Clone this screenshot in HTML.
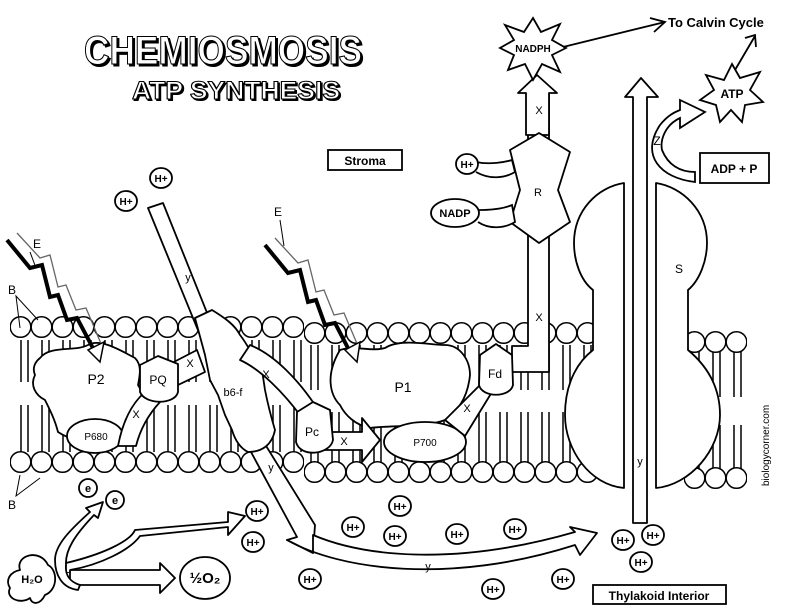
<!DOCTYPE html>
<html><head><meta charset="utf-8"><style>
html,body{margin:0;padding:0;background:#fff}
svg{display:block}
text{font-family:"Liberation Sans",sans-serif}
</style></head><body>
<svg width="792" height="610" viewBox="0 0 792 610" xmlns="http://www.w3.org/2000/svg">
<defs>
<pattern id="hd" x="0" y="0" width="21" height="26" patternUnits="userSpaceOnUse">
<circle cx="10.5" cy="13" r="10.3" fill="#fff" stroke="#000" stroke-width="1.5"/>
</pattern>
<pattern id="tl" x="0" y="0" width="21" height="200" patternUnits="userSpaceOnUse">
<rect x="7" y="-2" width="7" height="204" fill="#fff" stroke="#000" stroke-width="1.5"/>
</pattern>
</defs>
<rect width="792" height="610" fill="#fff"/>

<!-- Title -->
<g font-weight="bold" stroke="#000" stroke-width="1.1">
<text x="84" y="64" font-size="40" textLength="278" lengthAdjust="spacingAndGlyphs" fill="#000" transform="translate(2,2)">CHEMIOSMOSIS</text>
<text x="84" y="64" font-size="40" textLength="278" lengthAdjust="spacingAndGlyphs" fill="#fff">CHEMIOSMOSIS</text>
<text x="132" y="99" font-size="25" textLength="208" lengthAdjust="spacingAndGlyphs" fill="#000" transform="translate(1.5,1.5)">ATP SYNTHESIS</text>
<text x="132" y="99" font-size="25" textLength="208" lengthAdjust="spacingAndGlyphs" fill="#fff">ATP SYNTHESIS</text>
</g>

<!-- Membrane tails -->
<rect width="290" height="42" fill="url(#tl)" transform="translate(14,340)"/>
<rect width="290" height="47" fill="url(#tl)" transform="translate(14,405)"/>
<rect width="290" height="45" fill="url(#tl)" transform="translate(304,345)"/>
<rect width="290" height="50" fill="url(#tl)" transform="translate(304,412)"/>
<rect width="63" height="47" fill="url(#tl)" transform="translate(685,350)"/>
<rect width="63" height="45" fill="url(#tl)" transform="translate(685,425)"/>
<!-- heads -->
<rect width="294" height="26" fill="url(#hd)" transform="translate(10,314)"/>
<rect width="294" height="26" fill="url(#hd)" transform="translate(10,449)"/>
<rect width="294" height="26" fill="url(#hd)" transform="translate(304,320)"/>
<rect width="294" height="26" fill="url(#hd)" transform="translate(304,459)"/>
<rect width="63" height="26" fill="url(#hd)" transform="translate(684,329)"/>
<rect width="63" height="26" fill="url(#hd)" transform="translate(684,465)"/>

<g fill="#fff" stroke="#000" stroke-width="1.8" stroke-linejoin="round">
<polygon points="148,208 163,203 250,420 315,525 313,553 287,540 297,537 238,428"/>
<path d="M40,358 C50,345 75,352 88,345 C100,338 120,350 135,358 C142,365 140,375 138,385 C145,395 140,405 135,415 C125,425 118,440 105,440 C90,445 70,440 58,432 C55,420 50,410 45,400 C35,395 30,385 35,375 C32,368 35,362 40,358Z"/>
<ellipse cx="95" cy="436" rx="28" ry="17"/>
<path d="M118,446 C122,425 130,405 145,392 L160,402 C148,415 140,430 136,446Z"/>
<path d="M195,318 L212,310 C225,318 235,325 240,335 C248,345 255,360 262,370 L265,390 C268,405 272,420 275,430 C272,445 262,452 248,452 C240,448 235,440 232,430 L225,415 L218,395 L210,380 L205,355 Z"/>
<polygon points="168,365 197,350 205,372 178,385"/>
<path d="M140,365 L158,356 L178,364 L178,392 C175,405 145,405 140,392Z"/>
<path d="M240,360 C262,370 285,395 300,415 L315,405 C298,380 275,355 250,345Z"/>
<path d="M340,350 C355,345 370,352 385,348 C400,338 430,345 445,345 C460,345 470,360 470,375 C468,395 460,410 445,420 C425,428 390,425 370,428 C355,425 345,415 340,405 C330,395 325,375 340,350Z"/>
<ellipse cx="425" cy="442" rx="41" ry="20"/>
<polygon points="445,420 480,385 492,392 465,436"/>
<polygon points="325,432 362,432 362,418 380,440 362,462 362,450 325,450"/>
<path d="M297,412 L313,402 L330,410 L333,440 C330,455 300,458 296,442Z"/>
<polygon points="528,95 549,95 549,372 512,372 512,346 528,346"/>
<polygon points="537,75 557,93 549,93 549,135 526,135 526,93 518,93"/>
<path d="M480,355 L496,344 L512,355 L513,385 C510,398 482,398 479,385Z"/>
<polygon points="539,133 570,152 558,190 570,222 539,243 510,222 520,190 510,150"/>
<path d="M624,183 L624,488 C590,485 565,450 565,415 C565,380 580,360 593,350 L593,290 C580,280 574,260 574,243 C574,210 598,187 624,183Z"/>
<path d="M656,183 L656,488 C690,485 720,450 720,415 C720,380 700,360 688,350 L688,290 C700,280 707,260 707,243 C707,210 682,187 656,183Z"/>
<polygon points="641,78 658,97 647,97 647,523 633,523 633,97 625,97"/>
<path d="M287,540 C340,570 450,585 575,545 L580,555 L597,533 L570,527 L575,532 C450,568 360,555 313,535 L313,553 Z"/>
</g>

<g fill="none" stroke-linejoin="miter">
<polyline points="7,240 30,268 42,265 50,297 58,295 67,320 77,318 95,352" stroke="#000" stroke-width="4"/>
<polyline points="17,233 40,258 50,255 58,287 66,285 76,310 86,308 102,346" stroke="#666" stroke-width="1.3"/>
<polygon points="88,350 100,362 104,342" fill="#fff" stroke="#000" stroke-width="1.5"/>
<polyline points="265,245 288,273 300,270 308,302 316,300 325,325 335,323 350,352" stroke="#000" stroke-width="4"/>
<polyline points="275,238 298,263 308,260 316,292 324,290 334,315 344,313 358,346" stroke="#666" stroke-width="1.3"/>
<polygon points="345,350 357,362 360,342" fill="#fff" stroke="#000" stroke-width="1.5"/>
</g>
<g stroke="#000" stroke-width="1" fill="none">
<line x1="30" y1="252" x2="36" y2="268"/>
<line x1="280" y1="220" x2="284" y2="246"/>
<polyline points="20,328 16,296 38,320"/>
<polyline points="20,475 16,496 40,478"/>
</g>

<g fill="#fff" stroke="#000" stroke-width="1.8">
<path d="M476,162 C490,165 505,162 512,160 L515,172 C505,178 490,180 476,172"/>
<path d="M478,210 C495,210 505,208 512,205 L515,222 C505,228 490,230 478,222"/>
<polygon points="533,18 541,32 560,24 552,40 566,48 552,55 560,72 542,64 533,80 525,64 508,70 514,55 500,48 514,40 505,25 524,32"/>
<polygon points="732,64 740,78 760,72 750,90 763,102 745,105 742,122 731,110 720,122 716,105 700,100 714,90 706,75 724,80"/>
<ellipse cx="455" cy="213" rx="24" ry="14"/>
<ellipse cx="467" cy="164" rx="11" ry="10"/>
<path d="M695,182 C660,178 640,155 660,125 C668,115 675,112 680,110 L680,100 L705,112 L680,128 L680,118 C665,125 660,140 662,150 C668,165 680,172 695,172 Z"/>
</g>
<g stroke="#000" stroke-width="1.8" fill="none">
<line x1="563" y1="47" x2="665" y2="22"/>
<polyline points="650,18 665,22 654,32"/>
<line x1="735" y1="70" x2="755" y2="36"/>
<polyline points="745,38 755,35 756,47"/>
</g>

<rect x="328" y="150" width="74" height="20" fill="#fff" stroke="#000" stroke-width="1.8"/>
<rect x="700" y="153" width="69" height="30" fill="#fff" stroke="#000" stroke-width="1.8"/>
<rect x="593" y="585" width="133" height="19" fill="#fff" stroke="#000" stroke-width="1.8"/>

<g fill="#fff" stroke="#000" stroke-width="1.8" stroke-linejoin="round">
<path d="M20,570 C15,555 40,548 48,565 C58,570 58,590 45,595 C40,605 32,605 30,598 C20,605 5,598 10,588 C5,580 10,572 20,570Z"/>
<ellipse cx="205" cy="578" rx="25" ry="21"/>
<polygon points="70,570 160,570 160,563 175,578 160,593 160,585 70,585"/>
<path d="M66,563 C100,555 130,542 135,530 L228,522 L228,512 L245,516 L228,535 L228,527 L140,536 C130,550 100,565 70,570"/>
<path d="M55,560 C55,545 70,530 90,512 L86,508 L103,502 L98,518 L94,515 C75,535 65,550 66,565 C65,575 70,582 80,585 L78,590 C62,588 55,575 55,560Z"/>
<circle cx="88" cy="488" r="9"/>
<circle cx="115" cy="500" r="9"/>
</g>

<g fill="#fff" stroke="#000" stroke-width="1.8">
<ellipse cx="126" cy="201" rx="11" ry="10"/>
<ellipse cx="161" cy="178" rx="11" ry="10"/>
<ellipse cx="257" cy="511" rx="11" ry="10"/>
<ellipse cx="253" cy="542" rx="11" ry="10"/>
<ellipse cx="353" cy="527" rx="11" ry="10"/>
<ellipse cx="400" cy="506" rx="11" ry="10"/>
<ellipse cx="395" cy="536" rx="11" ry="10"/>
<ellipse cx="457" cy="534" rx="11" ry="10"/>
<ellipse cx="515" cy="529" rx="11" ry="10"/>
<ellipse cx="310" cy="579" rx="11" ry="10"/>
<ellipse cx="493" cy="589" rx="11" ry="10"/>
<ellipse cx="563" cy="579" rx="11" ry="10"/>
<ellipse cx="623" cy="540" rx="11" ry="10"/>
<ellipse cx="653" cy="535" rx="11" ry="10"/>
<ellipse cx="641" cy="562" rx="11" ry="10"/>
</g>
<g font-size="10" font-weight="bold" text-anchor="middle">
<text x="126" y="205">H+</text><text x="161" y="182">H+</text><text x="467" y="168">H+</text>
<text x="257" y="515">H+</text><text x="253" y="546">H+</text><text x="353" y="531">H+</text>
<text x="400" y="510">H+</text><text x="395" y="540">H+</text><text x="457" y="538">H+</text>
<text x="515" y="533">H+</text><text x="310" y="583">H+</text><text x="493" y="593">H+</text>
<text x="563" y="583">H+</text><text x="623" y="544">H+</text><text x="653" y="539">H+</text>
<text x="641" y="566">H+</text>
<text x="88" y="492" font-size="11">e</text><text x="115" y="504" font-size="11">e</text>
<text x="455" y="217" font-size="11">NADP</text>
<text x="533" y="52" font-size="10">NADPH</text>
<text x="732" y="98" font-size="12">ATP</text>
<text x="365" y="165" font-size="12">Stroma</text>
<text x="734" y="173" font-size="12">ADP + P</text>
<text x="659" y="600" font-size="12">Thylakoid Interior</text>
<text x="668" y="27" font-size="13" text-anchor="start">To Calvin Cycle</text>
</g>
<g font-size="12" text-anchor="middle">
<text x="96" y="384" font-size="14">P2</text>
<text x="96" y="440" font-size="10">P680</text>
<text x="158" y="384">PQ</text>
<text x="233" y="396" font-size="11">b6-f</text>
<text x="403" y="392" font-size="14">P1</text>
<text x="425" y="446" font-size="10">P700</text>
<text x="312" y="436">Pc</text>
<text x="495" y="378">Fd</text>
<text x="538" y="196" font-size="11">R</text>
<text x="679" y="273">S</text>
<text x="657" y="145">Z</text>
<text x="68" y="573">L</text>
<text x="188" y="281" font-size="11">y</text>
<text x="271" y="471" font-size="11">y</text>
<text x="428" y="570" font-size="11">y</text>
<text x="640" y="465" font-size="11">y</text>
<text x="539" y="114" font-size="11">X</text>
<text x="539" y="321" font-size="11">X</text>
<text x="190" y="367" font-size="11">X</text>
<text x="136" y="418" font-size="11">X</text>
<text x="266" y="378" font-size="11">X</text>
<text x="344" y="445" font-size="11">X</text>
<text x="467" y="412" font-size="11">X</text>
<text x="37" y="248">E</text>
<text x="278" y="216">E</text>
<text x="12" y="294">B</text>
<text x="12" y="509">B</text>
<text x="205" y="583" font-size="15" font-weight="bold">½O₂</text>
<text x="32" y="583" font-size="11" font-weight="bold">H₂O</text>
</g>
<text x="769" y="486" font-size="10" transform="rotate(-90 769 486)">biologycorner.com</text>
</svg>
</body></html>
